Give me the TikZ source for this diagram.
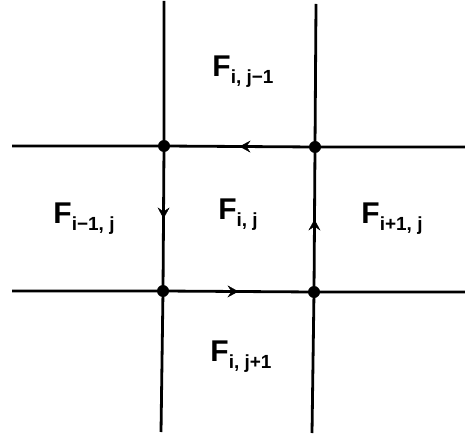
\documentclass[tikz,border=0pt]{standalone}
\usepackage{fontspec}
\setsansfont{Liberation Sans}
\usetikzlibrary{arrows.meta, decorations.markings}
\tikzset{
  gridline/.style={line width=2.8pt},
  vertex/.style={circle, fill=black, inner sep=0pt, minimum size=12pt},
  midarrow/.style={postaction={decorate},
    decoration={markings, mark=at position 0.5 with
      {\arrow{Stealth[length=11pt, width=12pt, inset=4pt]}}}},
  cell/.style={font=\sffamily\bfseries\fontsize{30}{31}\selectfont, inner sep=0pt},
}
\newcommand{\Fsub}[1]{F\raisebox{-7pt}{\fontsize{19}{20}\selectfont #1}}

\begin{document}
\begin{tikzpicture}[x=1pt, y=-1pt]
  \useasboundingbox (0,0) rectangle (465,438);
  % ends of the grid lines
  \coordinate (lt) at (164,1);   \coordinate (lb) at (161,432);
  \coordinate (rt) at (316,4);   \coordinate (rb) at (312,433);
  \coordinate (tl) at (12,146);  \coordinate (tr) at (465,147);
  \coordinate (bl) at (12,291);  \coordinate (br) at (465,292);
  % grid points
  \coordinate (nw) at (164,146);
  \coordinate (ne) at (315,147);
  \coordinate (sw) at (163,291);
  \coordinate (se) at (314,292);
  \draw[gridline] (lt) -- (nw) -- (sw) -- (lb);
  \draw[gridline] (rt) -- (ne) -- (se) -- (rb);
  \draw[gridline] (tl) -- (nw) -- (ne) -- (tr);
  \draw[gridline] (bl) -- (sw) -- (se) -- (br);
  % circulation round the cell
  \path[midarrow] (ne) -- (nw);
  \path[midarrow] (nw) -- (sw);
  \path[midarrow] (sw) -- (se);
  \path[midarrow] (se) -- (ne);
  \foreach \p in {nw, ne, sw, se}
    \node[vertex] (dot-\p) at (\p) {};
  % cell labels
  \node[cell] (top)    at (243,72)  {\Fsub{i, j−1}};
  \node[cell] (centre) at (238,215) {\Fsub{i, j}};
  \node[cell] (left)   at (84,219)  {\Fsub{i−1, j}};
  \node[cell] (right)  at (392,219) {\Fsub{i+1, j}};
  \node[cell] (bottom) at (241,357) {\Fsub{i, j+1}};
\end{tikzpicture}
\end{document}
